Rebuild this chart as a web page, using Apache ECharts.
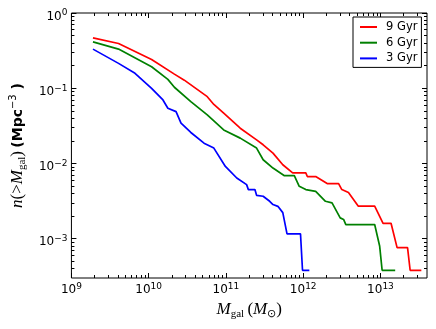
<!DOCTYPE html>
<html>
<head>
<meta charset="utf-8">
<script src="https://cdn.jsdelivr.net/npm/echarts@6/dist/echarts.min.js"></script>
<style>
  html, body { margin: 0; padding: 0; background: #fff; }
  #chart { width: 436px; height: 329px; }
</style>
</head>
<body>
<div id="chart"></div>
<script>
// cumulative number density n(>M_gal)
const gyr9M = [1.9e9, 4.07e9, 1.09e10, 2.15e10, 2.89e10, 5.73e10, 6.97e10, 9.35e10, 1.53e11, 2.49e11, 3.03e11, 4.06e11, 5.44e11, 7.3e11, 1.08e12, 1.13e12, 1.45e12, 2.04e12, 2.87e12, 3.16e12, 3.85e12, 5.17e12, 8.41e12, 1.08e13, 1.37e13, 1.64e13, 2.24e13, 2.42e13, 3.38e13];
const gyr9N = [0.467, 0.393, 0.241, 0.154, 0.128, 0.0772, 0.0608, 0.0465, 0.0294, 0.0206, 0.0177, 0.0137, 0.0096, 0.0075, 0.0075, 0.0067, 0.0067, 0.0054, 0.0054, 0.0045, 0.0041, 0.0027, 0.0027, 0.0016, 0.0016, 0.00076, 0.00076, 0.00038, 0.00038];

const gyr6M = [1.9e9, 4.07e9, 1.09e10, 1.77e10, 2.15e10, 3.51e10, 5.73e10, 9.35e10, 1.53e11, 2.49e11, 3.03e11, 4.06e11, 5.71e11, 7.67e11, 8.88e11, 1.08e12, 1.45e12, 1.94e12, 2.36e12, 3.01e12, 3.33e12, 3.56e12, 8.41e12, 9.75e12, 1.05e13, 1.55e13];
const gyr6N = [0.413, 0.331, 0.193, 0.131, 0.103, 0.0663, 0.0442, 0.0279, 0.0217, 0.016, 0.0112, 0.00869, 0.00687, 0.00687, 0.00496, 0.00449, 0.00426, 0.00314, 0.00299, 0.00189, 0.0018, 0.00154, 0.00154, 0.0008, 0.00038, 0.00038];

const gyr3M = [1.9e9, 4.07e9, 6.65e9, 1.09e10, 1.53e10, 1.77e10, 2.26e10, 2.62e10, 3.51e10, 5.2e10, 6.97e10, 9.83e10, 1.38e11, 1.85e11, 1.95e11, 2.37e11, 2.49e11, 3.03e11, 3.68e11, 4.06e11, 4.7e11, 5.44e11, 6.17e11, 9.22e11, 9.79e11, 1.2e12];
const gyr3N = [0.331, 0.214, 0.158, 0.0997, 0.0698, 0.0542, 0.0489, 0.0343, 0.0258, 0.0186, 0.016, 0.00912, 0.00641, 0.00523, 0.00449, 0.00449, 0.00377, 0.00366, 0.00314, 0.00284, 0.00269, 0.00222, 0.00116, 0.00116, 0.00038, 0.00038];

const seriesNames = ['9 Gyr', '6 Gyr', '3 Gyr'];
const xTicks = [1e9, 1e10, 1e11, 1e12, 1e13];
const yTicks = [1e-3, 1e-2, 1e-1, 1];

// minor ticks 2..9 in every decade
function minors(decades, lo, hi) {
  let out = [];
  decades.forEach(d => {
    for (let k = 2; k <= 9; k++) {
      let v = k * d;
      if (v > lo && v < hi) out.push(v);
    }
  });
  return out;
}
const xMinor = minors(xTicks, 1e9, 4e13);
const yMinor = minors([1e-4].concat(yTicks), 3.5e-4, 1);

function zip(a, b) { return a.map((v, i) => [v, b[i]]); }

function pow10(v) {
  let e = Math.round(Math.log10(v));
  return '{b|10}{s|' + (e < 0 ? '\u2212' + (-e) : e) + '}';
}

const labelRich = {
  b: { fontSize: 12, lineHeight: 16, fontFamily: 'DejaVu Sans', color: '#000' },
  s: { fontSize: 9, verticalAlign: 'top', fontFamily: 'DejaVu Sans', color: '#000' }
};

function logAxis(pos, type, min, max, ticks, len, withLabel) {
  let ax = {
    type: 'log', logBase: 10, position: pos, min: min, max: max,
    axisLine: { show: false },
    splitLine: { show: false },
    axisTick: { show: true, inside: true, length: len, customValues: ticks,
      lineStyle: { color: '#000', width: 1 } },
    axisLabel: { show: false }
  };
  if (withLabel) {
    ax.axisLabel = {
      show: true, customValues: ticks, formatter: pow10, rich: labelRich,
      margin: 4,
      padding: type === 'x' ? 0 : [7, 0, 0, 0]
    };
  }
  return ax;
}

const serif = 'Liberation Serif';
let xName = logAxis('bottom', 'x', 1e9, 4e13, xTicks, 5, true);
xName.name = '{i|M}{sub|gal} {r|(}{i|M}{sub|\u2299}{r|)}';
xName.nameLocation = 'middle';
xName.nameGap = 20;
xName.nameTextStyle = {
  rich: {
    i: { fontFamily: serif, fontStyle: 'italic', fontSize: 17, lineHeight: 20, color: '#000' },
    r: { fontFamily: serif, fontSize: 17, lineHeight: 20, color: '#000' },
    sub: { fontFamily: serif, fontSize: 11, verticalAlign: 'bottom', color: '#000' }
  }
};

let yName = logAxis('left', 'y', 3e-4, 1, yTicks, 5, true);
yName.name = '{i|n}{r|(>}{i|M}{sub|gal}{r|)} {t|(Mpc}{sup|\u22123}{t| )}';
yName.nameLocation = 'middle';
yName.nameGap = 31;
yName.nameTextStyle = {
  rich: {
    i: { fontFamily: serif, fontStyle: 'italic', fontSize: 17, lineHeight: 20, color: '#000' },
    r: { fontFamily: serif, fontSize: 17, lineHeight: 20, color: '#000' },
    sub: { fontFamily: serif, fontSize: 11, verticalAlign: 'bottom', color: '#000' },
    t: { fontFamily: 'DejaVu Sans', fontWeight: 'bold', fontSize: 14, lineHeight: 20, color: '#000' },
    sup: { fontFamily: 'DejaVu Sans', fontSize: 10, verticalAlign: 'top', color: '#000' }
  }
};

const colors = ['#ff0000', '#008000', '#0000ff'];
const datasets = [zip(gyr9M, gyr9N), zip(gyr6M, gyr6N), zip(gyr3M, gyr3N)];

let chart = echarts.init(document.getElementById('chart'));
chart.setOption({
  animation: false,
  backgroundColor: '#fff',
  grid: { left: 65, top: 13, width: 362, height: 265, show: true, borderColor: '#000', borderWidth: 1 },
  legend: {
    data: seriesNames,
    orient: 'vertical',
    left: 353, top: 17,
    padding: [3, 4, 2, 7],
    itemGap: 1.7,
    itemWidth: 17, itemHeight: 2,
    icon: 'rect',
    borderColor: '#000', borderWidth: 1, borderRadius: 0,
    backgroundColor: '#fff',
    textStyle: { fontFamily: 'DejaVu Sans', fontSize: 11.5, lineHeight: 14, color: '#000', padding: [0, 0, 0, 4] }
  },
  xAxis: [
    xName,
    logAxis('bottom', 'x', 1e9, 4e13, xMinor, 3, false),
    logAxis('top', 'x', 1e9, 4e13, xTicks, 5, false),
    logAxis('top', 'x', 1e9, 4e13, xMinor, 3, false)
  ],
  yAxis: [
    yName,
    logAxis('left', 'y', 3e-4, 1, yMinor, 3, false),
    logAxis('right', 'y', 3e-4, 1, yTicks, 5, false),
    logAxis('right', 'y', 3e-4, 1, yMinor, 3, false)
  ],
  series: seriesNames.map((name, i) => ({
    name: name,
    type: 'line',
    xAxisIndex: 0, yAxisIndex: 0,
    data: datasets[i],
    showSymbol: false,
    color: colors[i],
    lineStyle: { color: colors[i], width: 1.7 }
  }))
});
</script>
</body>
</html>
